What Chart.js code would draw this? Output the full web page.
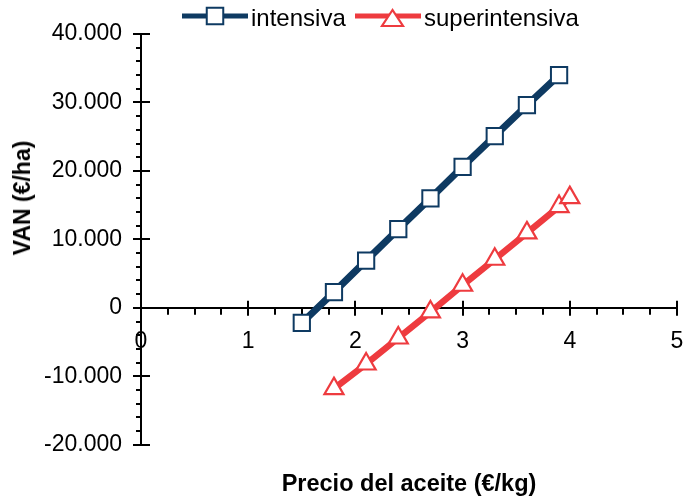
<!DOCTYPE html>
<html><head><meta charset="utf-8">
<script src="https://cdn.jsdelivr.net/npm/chart.js@4"></script>
<style>
html,body{margin:0;padding:0;background:#fff;}
#wrap{position:relative;width:685px;height:499px;}
#c{position:absolute;left:0;top:0;}
.lg{position:absolute;font-family:'Liberation Sans',Arial,sans-serif;font-size:24px;line-height:24px;color:#000;white-space:nowrap;}
.ic{position:absolute;top:1px;}
#ytitle{position:absolute;left:22px;top:198px;transform:translate(-50%,-50%) rotate(-90deg);font-family:'Liberation Sans',Arial,sans-serif;font-size:23px;font-weight:bold;line-height:26px;color:#000;white-space:nowrap;}
</style></head>
<body><div id="wrap"><canvas id="c" width="685" height="499"></canvas>
<svg class="ic" style="left:182px" width="66" height="30"><line x1="0" y1="15" x2="66" y2="15" stroke="#0e3a62" stroke-width="5"/><rect x="24.75" y="6.75" width="16.5" height="16.5" fill="#fff" stroke="#0e3a62" stroke-width="2"/></svg>
<span class="lg" id="lg1" style="left:251px;top:6px"></span>
<svg class="ic" style="left:355px" width="66" height="30"><line x1="0" y1="15" x2="66" y2="15" stroke="#ee3b3f" stroke-width="5"/><polygon points="37.5,9 27,25 48,25" fill="#fff" stroke="#ee3b3f" stroke-width="2.2"/></svg>
<span class="lg" id="lg2" style="left:424px;top:6px"></span>
<span id="ytitle"></span>
</div>
<script>
// ---- data ----
const seriesNames = ['intensiva', 'superintensiva'];
const priceIntensiva = [1.5, 1.8, 2.1, 2.4, 2.7, 3.0, 3.3, 3.6, 3.9];
const vanIntensiva = [-2200, 2300, 6900, 11500, 16000, 20600, 25100, 29600, 34000];
const priceSuper = [1.8, 2.1, 2.4, 2.7, 3.0, 3.3, 3.6, 3.9, 4.0];
const vanSuper = [-11800, -8200, -4400, -600, 3300, 7100, 10950, 14800, 16100];
const xTickLabels = [0, 1, 2, 3, 4, 5];
const yTickLabels = [-20000, -10000, 0, 10000, 20000, 30000, 40000];
const xTitle = 'Precio del aceite (€/kg)';
const yTitle = 'VAN (€/ha)';

document.getElementById('lg1').textContent = seriesNames[0];
document.getElementById('lg2').textContent = seriesNames[1];
document.getElementById('ytitle').textContent = yTitle;

const FONT = "'Liberation Sans', Arial, sans-serif";
const BLUE = '#0e3a62', RED = '#ee3b3f';

function fmt(v) {
  const s = Math.abs(v).toString().replace(/\B(?=(\d{3})+(?!\d))/g, '.');
  return (v < 0 ? '-' : '') + s;
}
const toPts = (xs, ys) => xs.map((x, i) => ({x: x, y: ys[i]}));

const tickPlugin = {
  id: 'minorTicks',
  beforeDatasetsDraw(chart) {
    const ctx = chart.ctx, xs = chart.scales.x, ys = chart.scales.y;
    const ay = ys.getPixelForValue(0);
    const ax = chart.chartArea.left;
    ctx.save();
    ctx.strokeStyle = '#000';
    ctx.lineWidth = 2;
    xs.ticks.forEach(t => {
      const px = Math.round(xs.getPixelForValue(t.value));
      const major = xTickLabels.includes(Math.round(t.value * 1000) / 1000);
      if (px <= ax + 1) return;
      ctx.beginPath();
      if (major) { ctx.moveTo(px, ay - 7); ctx.lineTo(px, ay + 8); }
      else { ctx.moveTo(px, ay); ctx.lineTo(px, ay + 7); }
      ctx.stroke();
    });
    ys.ticks.forEach(t => {
      const py = Math.round(ys.getPixelForValue(t.value));
      const major = yTickLabels.includes(t.value);
      ctx.beginPath();
      if (major) { ctx.moveTo(ax - 8, py); ctx.lineTo(ax + 9, py); }
      else { ctx.moveTo(ax - 5, py); ctx.lineTo(ax, py); }
      ctx.stroke();
    });
    ctx.restore();
  }
};

new Chart(document.getElementById('c'), {
  type: 'line',
  data: {
    datasets: [
      {
        label: seriesNames[0],
        data: toPts(priceIntensiva, vanIntensiva),
        borderColor: BLUE, borderWidth: 7,
        pointStyle: 'rect', pointRadius: 11.5, pointBorderWidth: 2,
        pointBackgroundColor: '#fff', pointBorderColor: BLUE,
        tension: 0, clip: false
      },
      {
        label: seriesNames[1],
        data: toPts(priceSuper, vanSuper),
        borderColor: RED, borderWidth: 6.5,
        pointStyle: 'triangle', pointRadius: 11, pointBorderWidth: 2.2,
        pointBackgroundColor: '#fff', pointBorderColor: RED,
        tension: 0, clip: false
      }
    ]
  },
  options: {
    responsive: false,
    animation: false,
    events: [],
    layout: {autoPadding: false, padding: {top: 34, left: 0, right: 8, bottom: 0}},
    plugins: {
      legend: {display: false},
      tooltip: {enabled: false}
    },
    scales: {
      x: {
        type: 'linear', min: 0, max: 5,
        position: {y: 0},
        afterFit: s => { s.paddingLeft = 0; s.paddingRight = 0; },
        grid: {display: true, drawOnChartArea: false, drawTicks: false},
        border: {display: true, color: '#000', width: 2},
        ticks: {
          stepSize: 0.25, autoSkip: false, maxRotation: 0, padding: 20,
          color: '#000', font: {family: FONT, size: 23},
          callback: v => xTickLabels.includes(Math.round(v * 1000) / 1000) ? String(Math.round(v)) : ''
        }
      },
      xt: {
        type: 'linear', min: 0, max: 5, position: 'bottom', axis: 'x',
        afterFit: s => { s.paddingLeft = 0; s.paddingRight = 0; },
        grid: {display: false, drawTicks: false},
        border: {display: false},
        ticks: {display: false},
        title: {
          display: true, text: xTitle, color: '#000',
          font: {family: FONT, size: 23.5, weight: 'bold'},
          padding: {top: 26, bottom: 0}
        }
      },
      y: {
        type: 'linear', min: -20000, max: 40000, position: 'left',
        afterFit: s => { s.width = 141; },
        grid: {display: true, drawOnChartArea: false, drawTicks: false},
        border: {display: true, color: '#000', width: 2},
        ticks: {
          stepSize: 2000, autoSkip: false, padding: 19,
          color: '#000', font: {family: FONT, size: 23},
          callback: v => yTickLabels.includes(v) ? fmt(v) : ''
        }
      }
    }
  },
  plugins: [tickPlugin]
});
</script>
</body></html>
